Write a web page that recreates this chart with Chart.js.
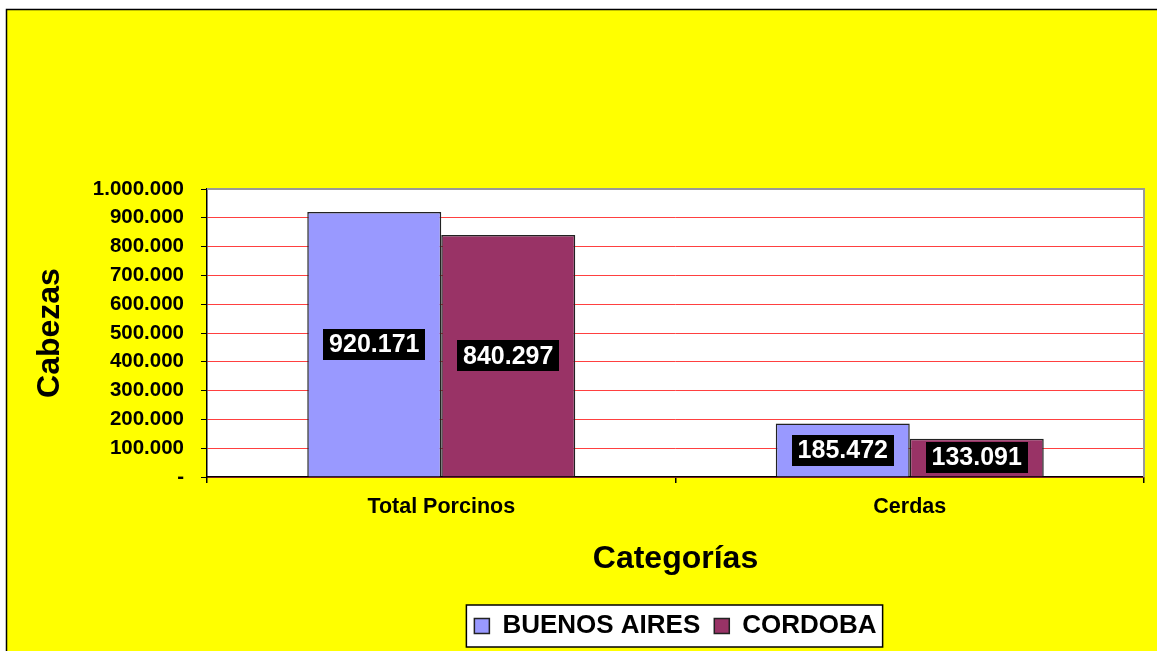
<!DOCTYPE html>
<html>
<head>
<meta charset="utf-8">
<script src="https://cdn.jsdelivr.net/npm/chart.js@4.4.1/dist/chart.umd.min.js"></script>
<style>
  html, body { margin: 0; padding: 0; background: #ffffff; }
  #wrap { width: 1157px; height: 651px; position: relative; }
</style>
</head>
<body>
<div id="wrap"><canvas id="c" width="1157" height="651"></canvas></div>
<script>
const categories = ['Total Porcinos', 'Cerdas'];
const seriesNames = ['BUENOS AIRES', 'CORDOBA'];
const buenosAires = [920171, 185472];
const cordoba = [840297, 133091];
const yTicks = [0, 100000, 200000, 300000, 400000, 500000, 600000, 700000, 800000, 900000, 1000000];

const FONT = "'Liberation Sans', Arial, sans-serif";

function fmt(v) {
  if (v === 0) return '-';
  return String(Math.round(v)).replace(/\B(?=(\d{3})+(?!\d))/g, '.');
}

const pagePlugin = {
  id: 'page',
  afterLayout(chart) {
    const lg = chart.legend;
    const a = chart.chartArea;
    if (lg) {
      lg.left = a.left;
      lg.right = a.right;
      lg.width = a.right - a.left;
    }
  },
  beforeDraw(chart) {
    const ctx = chart.ctx;
    const a = chart.chartArea;
    ctx.save();
    ctx.fillStyle = '#ffffff';
    ctx.fillRect(0, 0, chart.width, chart.height);
    ctx.fillStyle = '#ffff00';
    ctx.fillRect(6, 9, chart.width - 6, chart.height - 9);
    ctx.strokeStyle = '#000000';
    ctx.lineWidth = 1.5;
    ctx.beginPath();
    ctx.moveTo(6.5, chart.height);
    ctx.lineTo(6.5, 9.5);
    ctx.lineTo(chart.width, 9.5);
    ctx.stroke();
    // plot area
    ctx.fillStyle = '#ffffff';
    ctx.fillRect(a.left, a.top, a.right - a.left, a.bottom - a.top);
    // legend box
    const lg = chart.legend;
    if (lg && lg.legendHitBoxes && lg.legendHitBoxes.length) {
      let l = Infinity, r = -Infinity, t = Infinity, b = -Infinity;
      lg.legendHitBoxes.forEach(h => {
        l = Math.min(l, h.left); r = Math.max(r, h.left + h.width);
        t = Math.min(t, h.top); b = Math.max(b, h.top + h.height);
      });
      const bx = l - 8, by = t - 8, bw = (r - l) + 14, bh = (b - t) + 16;
      ctx.fillStyle = '#ffffff';
      ctx.fillRect(bx, by, bw, bh);
      ctx.strokeStyle = '#000000';
      ctx.lineWidth = 1.5;
      ctx.strokeRect(bx, by, bw, bh);
    }
    ctx.restore();
  },
  beforeDatasetsDraw(chart) {
    const ctx = chart.ctx;
    const a = chart.chartArea;
    ctx.save();
    ctx.strokeStyle = '#999999';
    ctx.lineWidth = 2;
    ctx.beginPath();
    ctx.moveTo(a.left, a.top);
    ctx.lineTo(a.right, a.top);
    ctx.lineTo(a.right, a.bottom);
    ctx.stroke();
    ctx.restore();
  },
  afterDatasetsDraw(chart) {
    const ctx = chart.ctx;
    ctx.save();
    ctx.font = 'bold 25px ' + FONT;
    ctx.textAlign = 'center';
    ctx.textBaseline = 'middle';
    chart.data.datasets.forEach((ds, di) => {
      const meta = chart.getDatasetMeta(di);
      meta.data.forEach((bar, i) => {
        const txt = fmt(ds.data[i]);
        const cx = bar.x;
        const cy = (bar.y + bar.base) / 2;
        const w = ctx.measureText(txt).width + 12;
        const h = 31;
        ctx.fillStyle = '#000000';
        ctx.fillRect(Math.round(cx - w / 2), Math.round(cy - h / 2), Math.round(w), h);
        ctx.fillStyle = '#ffffff';
        ctx.fillText(txt, cx, cy + 1);
      });
    });
    ctx.restore();
  }
};

new Chart(document.getElementById('c'), {
  type: 'bar',
  data: {
    labels: categories,
    datasets: [
      { label: seriesNames[0], data: buenosAires, backgroundColor: '#9999ff', borderColor: '#222222', borderWidth: 1.5 },
      { label: seriesNames[1], data: cordoba, backgroundColor: '#993366', borderColor: '#222222', borderWidth: 1.5 }
    ]
  },
  options: {
    responsive: false,
    animation: false,
    devicePixelRatio: 1,
    datasets: { bar: { categoryPercentage: 0.572, barPercentage: 1.0 } },
    layout: { padding: { left: 14, right: 13, top: 189, bottom: 2 } },
    plugins: {
      legend: {
        position: 'bottom',
        labels: {
          font: { family: FONT, size: 26, weight: 'bold' },
          color: '#000000',
          boxWidth: 15,
          boxHeight: 15,
          padding: 14,
          generateLabels(chart) {
            return chart.data.datasets.map((ds, i) => ({
              text: ds.label, fillStyle: ds.backgroundColor, strokeStyle: '#222222', lineWidth: 1.5,
              hidden: false, datasetIndex: i, fontColor: '#000000'
            }));
          }
        }
      },
      tooltip: { enabled: false }
    },
    scales: {
      x: {
        offset: true,
        grid: { display: true, drawOnChartArea: false, offset: true, tickLength: 6, color: '#000000', lineWidth: 1.5 },
        border: { color: '#000000', width: 1.5 },
        ticks: { font: { family: FONT, size: 21.5, weight: 'bold' }, color: '#000000', padding: 11, maxRotation: 0 },
        title: { display: true, text: 'Categorías', font: { family: FONT, size: 32, weight: 'bold' }, color: '#000000', padding: { top: 0, bottom: 21 } },
        afterFit(scale) { scale.height = 122; }
      },
      y: {
        min: 0, max: 1000000,
        afterBuildTicks(scale) { scale.ticks = yTicks.map(v => ({ value: v })); },
        grid: { color: '#ff4040', lineWidth: 1, tickLength: 6, tickColor: '#000000' },
        border: { color: '#000000', width: 1.5 },
        ticks: { font: { family: FONT, size: 20.5, weight: 'bold' }, color: '#000000', padding: 17, callback: (v) => fmt(v) },
        title: { display: true, text: 'Cabezas', font: { family: FONT, size: 32, weight: 'bold' }, color: '#000000', padding: { top: 17, bottom: 0 } },
        afterFit(scale) { scale.width = 193; }
      }
    }
  },
  plugins: [pagePlugin]
});
</script>
</body>
</html>
